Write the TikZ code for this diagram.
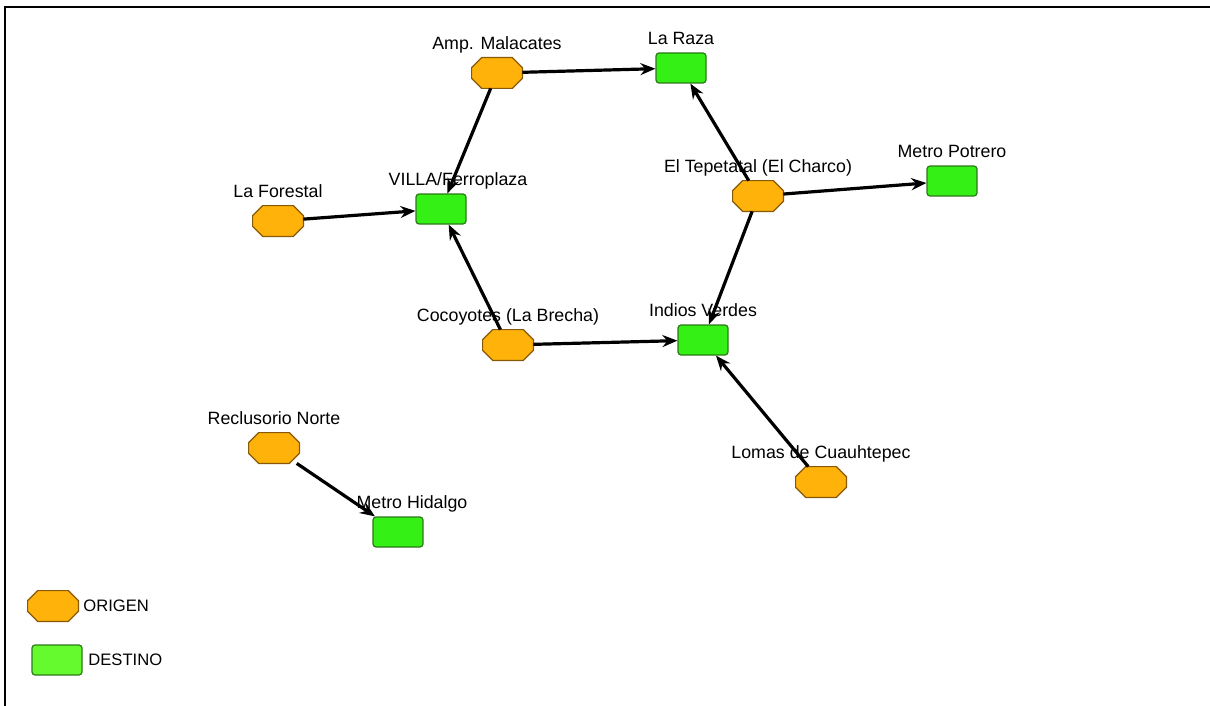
\documentclass[tikz,border=0pt]{standalone}
\usepackage{fontspec}
\setmainfont{Liberation Sans}
\usetikzlibrary{arrows.meta}
\definecolor{origenfill}{RGB}{255,178,10}
\definecolor{origenline}{RGB}{135,90,10}
\definecolor{destinofill}{RGB}{52,240,20}
\definecolor{legendfill}{RGB}{100,250,45}
\definecolor{destinoline}{RGB}{45,120,25}
\begin{document}
\begin{tikzpicture}[x=0.5pt,y=-0.5pt,
	origen/.style={rectangle,minimum width=25pt,minimum height=15pt,inner sep=0pt},
	octagono/.style={draw=origenline,fill=origenfill,line width=0.6pt},
	destino/.style={rectangle,rounded corners=1.5pt,
		draw=destinoline,fill=destinofill,line width=0.6pt,
		minimum width=25pt,minimum height=15pt,inner sep=0pt},
	lbl/.style={anchor=base,inner sep=0pt,font=\fontsize{8.9}{10}\selectfont},
	leyenda/.style={anchor=west,inner sep=0pt,font=\fontsize{8.3}{10}\selectfont},
	arr/.style={-{Stealth[length=7.5pt,width=6pt,inset=2.5pt]},line width=1.6pt},
	label distance=4pt]
	\useasboundingbox (0,0) rectangle (1210,706);
	
	% marco
	\draw[line width=1pt]
	(5,706) -- (5,7.3) -- (1210,7.3);
	
	% origenes
	\node[origen,label={[lbl]above:Amp. Malacates}] (amp) at (497,73) {};
	\node[origen,label={[lbl]above:La Forestal}] (forestal) at (278,221) {};
	\node[origen,label={[lbl]above:El Tepetatal (El Charco)}] (tepetatal) at (758,196) {};
	\node[origen,label={[lbl]above:Cocoyotes (La Brecha)}] (cocoyotes) at (508,345) {};
	\node[origen,label={[lbl]above:Lomas de Cuauhtepec}] (lomas) at (821,482) {};
	\node[origen,label={[lbl]above:Reclusorio Norte}] (reclusorio) at (274,448) {};
	\node[origen] (leyorigen) at (53,606) {};
	
	\foreach \n in {amp,forestal,tepetatal,cocoyotes,lomas,reclusorio,leyorigen}
	\draw[octagono]
	([xshift=5pt]\n.north west) -- ([xshift=-5pt]\n.north east)
	-- ([yshift=-5pt]\n.north east) -- ([yshift=5pt]\n.south east)
	-- ([xshift=-5pt]\n.south east) -- ([xshift=5pt]\n.south west)
	-- ([yshift=5pt]\n.south west) -- ([yshift=-5pt]\n.north west) -- cycle;
	
	% destinos
	\node[destino,label={[lbl]above:La Raza}] (raza) at (681,68) {};
	\node[destino,label={[lbl,xshift=8.5pt]above:VILLA/Ferroplaza}] (villa) at (441,209) {};
	\node[destino,label={[lbl]above:Metro Potrero}] (potrero) at (952,181) {};
	\node[destino,label={[lbl]above:Indios Verdes}] (indios) at (703,340) {};
	\node[destino,label={[lbl,xshift=7pt]above:Metro Hidalgo}] (hidalgo) at (398,532) {};
	
	% viajes
	\draw[arr] (amp) -- (raza);
	\draw[arr] (amp) -- (villa);
	\draw[arr] (forestal) -- (villa);
	\draw[arr] (cocoyotes) -- (villa);
	\draw[arr] (cocoyotes) -- (indios);
	\draw[arr] (tepetatal) -- (raza);
	\draw[arr] (tepetatal) -- (potrero);
	\draw[arr] (tepetatal) -- (indios);
	\draw[arr] (lomas) -- (indios);
	\draw[arr] (reclusorio) -- (hidalgo);
	
	% leyenda
	\node[leyenda] (txtorigen) at (83,606) {ORIGEN};
	\node[destino,fill=legendfill] (leydestino) at (57,660) {};
	\node[leyenda] (txtdestino) at (88,660) {DESTINO};
	
\end{tikzpicture}
\end{document}
